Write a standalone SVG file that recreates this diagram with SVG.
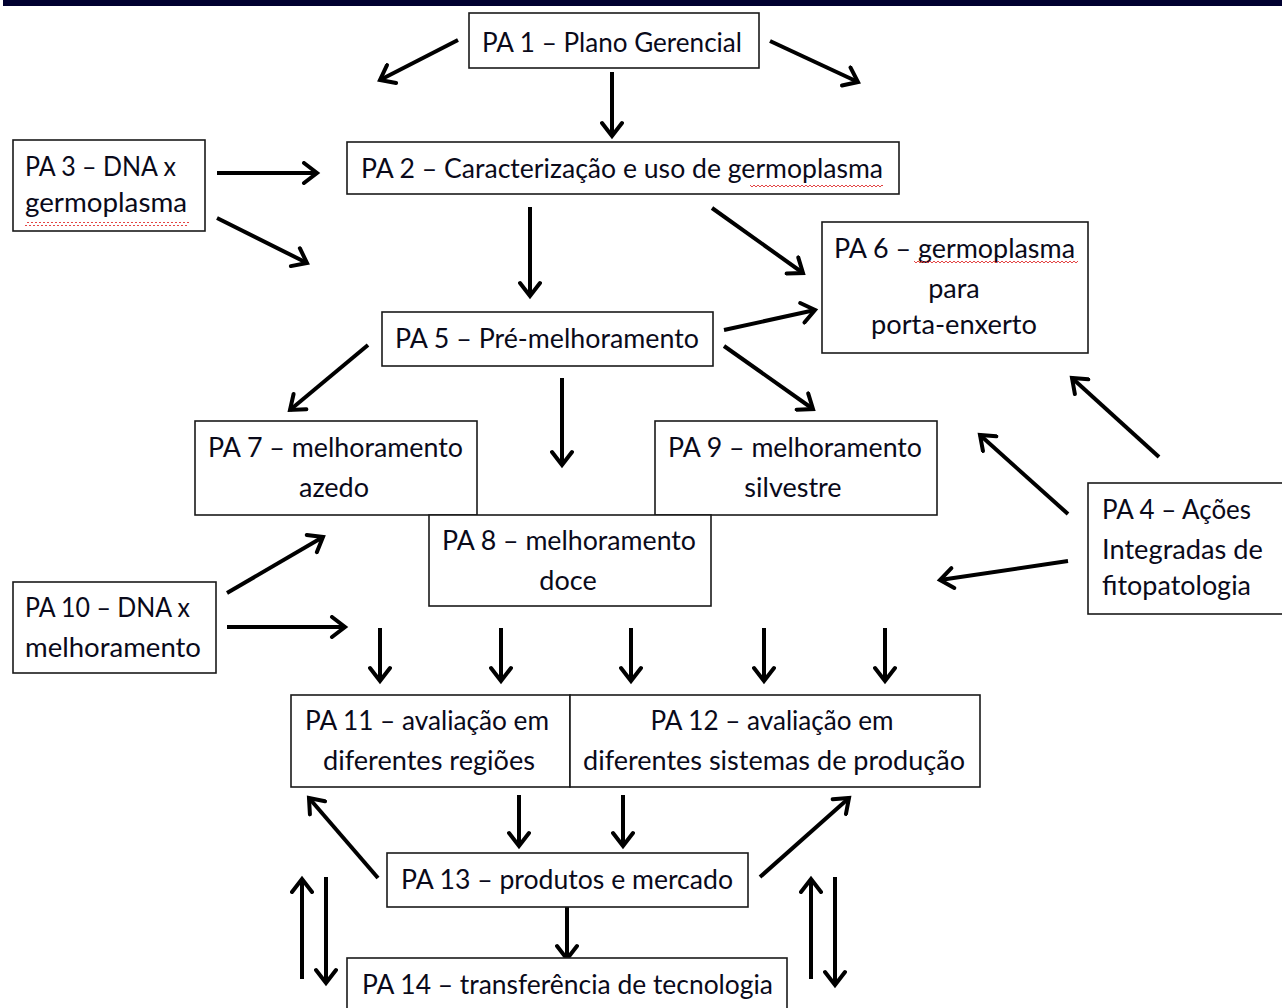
<svg xmlns="http://www.w3.org/2000/svg" width="1282" height="1008" viewBox="0 0 1282 1008">
<style>
.box{fill:#fff;stroke:#1a1a1a;stroke-width:1.6}
.t{font-family:Lato,"Open Sans","Liberation Sans",sans-serif;font-size:27px;fill:#0a0a1a}
.c{text-anchor:middle}
.a{stroke:#000;stroke-width:4;fill:none;marker-end:url(#ah)}
.w{fill:url(#wave)}
</style>
<defs>
<marker id="ah" markerUnits="userSpaceOnUse" markerWidth="24" markerHeight="24" viewBox="0 0 24 24" refX="20" refY="12" orient="auto">
<path d="M7,2 L20,12 L7,22" fill="none" stroke="#000" stroke-width="4" stroke-linecap="round" stroke-linejoin="miter"/>
</marker>
<pattern id="wave" patternUnits="userSpaceOnUse" width="4" height="4">
<path d="M0,3 L2,1 L4,3" fill="none" stroke="#e03030" stroke-width="0.9"/>
</pattern>
</defs>
<rect x="3" y="0" width="1279" height="6" fill="#000030"/>

<g id="connectors">
<line class="a" x1="458" y1="40" x2="380" y2="80"/>
<line class="a" x1="770" y1="41" x2="858" y2="82"/>
<line class="a" x1="612" y1="72" x2="612" y2="136"/>
<line class="a" x1="217" y1="173" x2="317" y2="173"/>
<line class="a" x1="217" y1="218" x2="307" y2="263"/>
<line class="a" x1="530" y1="207" x2="530" y2="296"/>
<line class="a" x1="712" y1="208" x2="803" y2="273"/>
<line class="a" x1="724" y1="330" x2="815" y2="310"/>
<line class="a" x1="724" y1="346" x2="813" y2="409"/>
<line class="a" x1="368" y1="345" x2="290" y2="410"/>
<line class="a" x1="562" y1="378" x2="562" y2="465"/>
<line class="a" x1="1159" y1="457" x2="1072" y2="378"/>
<line class="a" x1="1068" y1="514" x2="980" y2="435"/>
<line class="a" x1="1068" y1="561" x2="940" y2="580"/>
<line class="a" x1="227" y1="593" x2="323" y2="537"/>
<line class="a" x1="227" y1="627" x2="345" y2="627"/>
<line class="a" x1="380" y1="628" x2="380" y2="681"/>
<line class="a" x1="501" y1="628" x2="501" y2="681"/>
<line class="a" x1="631" y1="628" x2="631" y2="681"/>
<line class="a" x1="764" y1="628" x2="764" y2="681"/>
<line class="a" x1="885" y1="628" x2="885" y2="681"/>
<line class="a" x1="519" y1="795" x2="519" y2="846"/>
<line class="a" x1="623" y1="795" x2="623" y2="846"/>
<line class="a" x1="378" y1="878" x2="309" y2="798"/>
<line class="a" x1="760" y1="877" x2="849" y2="798"/>
<line class="a" x1="567" y1="907" x2="567" y2="959"/>
<line class="a" x1="302" y1="979" x2="302" y2="879"/>
<line class="a" x1="326" y1="877" x2="326" y2="983"/>
<line class="a" x1="811" y1="979" x2="811" y2="879"/>
<line class="a" x1="835" y1="877" x2="835" y2="985"/>
</g>

<g id="pa1">
<rect class="box" x="469" y="13" width="290" height="55"/>
<text class="t" x="482" y="52" textLength="260" lengthAdjust="spacingAndGlyphs">PA 1 – Plano Gerencial</text>
</g>
<g id="pa2">
<rect class="box" x="347" y="142" width="552" height="52"/>
<text class="t" x="361" y="178" textLength="522" lengthAdjust="spacingAndGlyphs">PA 2 – Caracterização e uso de germoplasma</text>
<rect class="w" x="750" y="184" width="133" height="4"/>
</g>
<g id="pa3">
<rect class="box" x="13" y="140" width="192" height="91"/>
<text class="t" x="25" y="176" textLength="151" lengthAdjust="spacingAndGlyphs">PA 3 – DNA x</text>
<text class="t" x="25" y="212" textLength="162" lengthAdjust="spacingAndGlyphs">germoplasma</text>
<rect class="w" x="25" y="222" width="164" height="4"/>
</g>
<g id="pa6">
<rect class="box" x="822" y="222" width="266" height="131"/>
<text class="t" x="834" y="258" textLength="241" lengthAdjust="spacingAndGlyphs">PA 6 – germoplasma</text>
<rect class="w" x="914" y="261" width="164" height="4"/>
<text class="t c" x="954" y="298">para</text>
<text class="t c" x="954" y="334" textLength="166" lengthAdjust="spacingAndGlyphs">porta-enxerto</text>
</g>
<g id="pa5">
<rect class="box" x="382" y="312" width="331" height="54"/>
<text class="t" x="395" y="348" textLength="304" lengthAdjust="spacingAndGlyphs">PA 5 – Pré-melhoramento</text>
</g>
<g id="pa7">
<rect class="box" x="195" y="421" width="282" height="94"/>
<text class="t" x="208" y="457" textLength="255" lengthAdjust="spacingAndGlyphs">PA 7 – melhoramento</text>
<text class="t c" x="334" y="497">azedo</text>
</g>
<g id="pa9">
<rect class="box" x="655" y="421" width="282" height="94"/>
<text class="t" x="668" y="457" textLength="254" lengthAdjust="spacingAndGlyphs">PA 9 – melhoramento</text>
<text class="t c" x="793" y="497">silvestre</text>
</g>
<g id="pa8">
<rect class="box" x="429" y="515" width="282" height="91"/>
<text class="t" x="442" y="550" textLength="254" lengthAdjust="spacingAndGlyphs">PA 8 – melhoramento</text>
<text class="t c" x="568" y="590">doce</text>
</g>
<g id="pa4">
<rect class="box" x="1088" y="483" width="200" height="131"/>
<text class="t" x="1102" y="519" textLength="149" lengthAdjust="spacingAndGlyphs">PA 4 – Ações</text>
<text class="t" x="1102" y="559" textLength="161" lengthAdjust="spacingAndGlyphs">Integradas de</text>
<text class="t" x="1102" y="595" textLength="149" lengthAdjust="spacingAndGlyphs">fitopatologia</text>
</g>
<g id="pa10">
<rect class="box" x="13" y="582" width="203" height="91"/>
<text class="t" x="25" y="617" textLength="165" lengthAdjust="spacingAndGlyphs">PA 10 – DNA x</text>
<text class="t" x="25" y="657" textLength="176" lengthAdjust="spacingAndGlyphs">melhoramento</text>
</g>
<g id="pa11">
<rect class="box" x="291" y="695" width="279" height="92"/>
<text class="t" x="305" y="730" textLength="244" lengthAdjust="spacingAndGlyphs">PA 11 – avaliação em</text>
<text class="t c" x="429" y="770" textLength="212" lengthAdjust="spacingAndGlyphs">diferentes regiões</text>
</g>
<g id="pa12">
<rect class="box" x="570" y="695" width="410" height="92"/>
<text class="t c" x="772" y="730" textLength="243" lengthAdjust="spacingAndGlyphs">PA 12 – avaliação em</text>
<text class="t c" x="774" y="770" textLength="382" lengthAdjust="spacingAndGlyphs">diferentes sistemas de produção</text>
</g>
<g id="pa13">
<rect class="box" x="387" y="853" width="361" height="54"/>
<text class="t" x="401" y="889" textLength="332" lengthAdjust="spacingAndGlyphs">PA 13 – produtos e mercado</text>
</g>
<g id="pa14">
<rect class="box" x="347" y="958" width="440" height="60"/>
<text class="t" x="362" y="994" textLength="411" lengthAdjust="spacingAndGlyphs">PA 14 – transferência de tecnologia</text>
</g>
</svg>
